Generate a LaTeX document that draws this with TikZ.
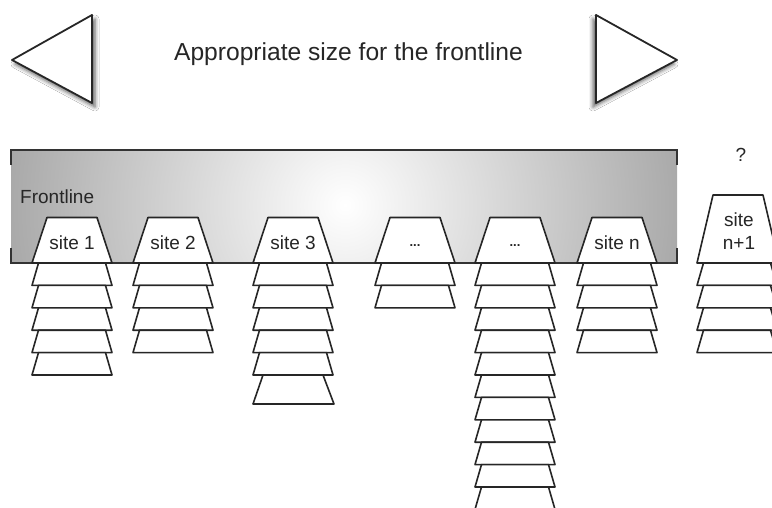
\documentclass[tikz,border=0pt]{standalone}
\usepackage{fontspec}
\setmainfont{Liberation Sans}
\usetikzlibrary{shadows.blur}
\tikzset{
  shapeline/.style={line width=1.6pt, draw=black!85, fill=white, line join=round},
  frameline/.style={line width=1.8pt, draw=black!80},
  lbl/.style={text=black!85, inner sep=0pt, font=\fontsize{19}{23}\selectfont},
  tri/.style={line width=1.8pt, draw=black!85, fill=white, line join=round}
}
\newcommand\drawplate[3]{%
  \pgfmathsetmacro\plbot{#2+#3}%
  \draw[shapeline] (#1,\plbot) -- (#1+6.5,#2) -- (#1+73.5,#2) -- (#1+80,\plbot) -- cycle;}
\newcommand\drawstack[2]{%
  \foreach \i [evaluate=\i as \pltop using 263+22.4*\i-22.4] in {1,...,#2}{\drawplate{#1}{\pltop}{22.4}}}
\newcommand\drawsite[1]{%
  \draw[shapeline] (#1,263) -- (#1+15,217.5) -- (#1+65,217.5) -- (#1+80,263) -- cycle;}
\begin{document}
\begin{tikzpicture}[x=1pt,y=-1pt]
\clip (0,0) rectangle (772,508);
\fill[white] (0,0) rectangle (772,508);
% arrows (triangles)
\draw[tri, blur shadow={shadow xshift=3pt, shadow yshift=-4pt, shadow blur radius=4pt, shadow opacity=65}]
  (92,15) -- (12,60) -- (92,103) -- cycle;
\draw[tri, blur shadow={shadow xshift=-3pt, shadow yshift=-4pt, shadow blur radius=4pt, shadow opacity=65}]
  (596,15) -- (677,60) -- (596,103) -- cycle;
\node[lbl, font=\fontsize{24.6}{28}\selectfont, anchor=base] (title) at (348.5,61) {Appropriate size for the frontline};
% frontline band
\begin{scope}
  \clip (11,150) rectangle (677,263);
  \shade[inner color=white, outer color=black!62] (345,205) circle (620);
\end{scope}
\draw[frameline] (11,165) -- (11,150) -- (677,150) -- (677,165);
\draw[frameline] (11,248) -- (11,263) -- (677,263) -- (677,248);
\node[lbl, anchor=west] (frontline) at (20,197) {Frontline};
% stacks
\drawstack{32}{5}
\drawstack{133}{4}
\drawstack{253}{5}
\draw[shapeline] (253,404) -- (263,375) -- (323,375) -- (334,404) -- cycle;
\drawstack{375}{2}
\drawstack{475}{11}
\drawstack{577}{4}
\drawstack{697}{4}
% site tops
\drawsite{32}
\drawsite{133}
\drawsite{253}
\drawsite{375}
\drawsite{475}
\drawsite{577}
\draw[shapeline] (697,263) -- (713,195) -- (763,195) -- (779,263) -- cycle;
% labels
\node[lbl] (s1) at (72,243) {site 1};
\node[lbl] (s2) at (173,243) {site 2};
\node[lbl] (s3) at (293,243) {site 3};
\node[lbl, font=\fontsize{13}{15}\bfseries] (d1) at (415,246) {...};
\node[lbl, font=\fontsize{13}{15}\bfseries] (d2) at (515,246) {...};
\node[lbl] (sn) at (617,243) {site n};
\node[lbl, align=center, font=\fontsize{19}{23}\selectfont] (sn1) at (739,231) {site\\n+1};
\node[lbl] (q) at (741,155) {?};
\end{tikzpicture}
\end{document}
